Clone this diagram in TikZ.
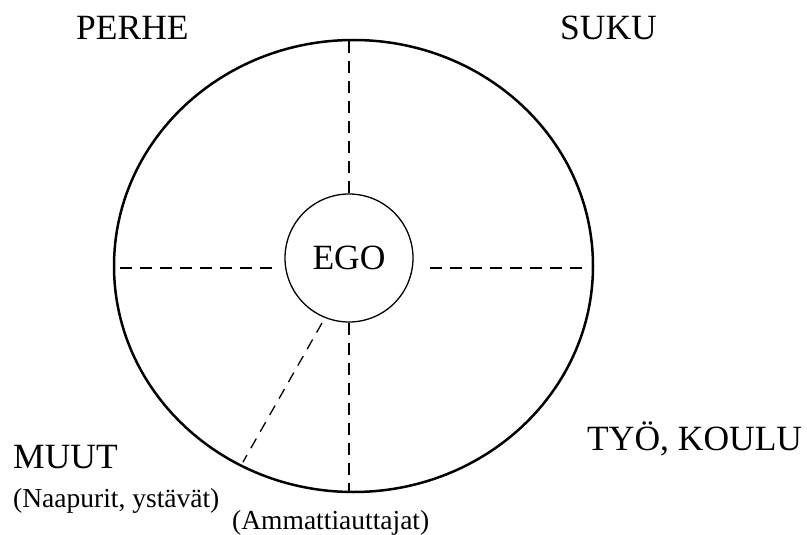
\documentclass[tikz,border=0pt]{standalone}
\usepackage{fontspec}
\setmainfont{Liberation Serif}
\usetikzlibrary{shapes.geometric,calc}
\tikzset{
  big/.style={inner sep=0pt, anchor=base west, font=\fontsize{35.5}{40}\selectfont},
  small/.style={inner sep=0pt, anchor=base west, font=\fontsize{27.5}{32}\selectfont},
  thickdash/.style={line width=2pt, dash pattern=on 12pt off 8pt},
  thindash/.style={line width=1.3pt, dash pattern=on 11pt off 8pt},
}
\begin{document}
\begin{tikzpicture}[x=1pt,y=-1pt]
\useasboundingbox (0,0) rectangle (807,535);
\node[draw, ellipse, line width=2.5pt, minimum width=479pt, minimum height=452pt, inner sep=0pt] (outer) at (353.5,266) {};
\node[draw, circle, line width=1.3pt, minimum size=128pt, inner sep=0pt, font=\fontsize{35.5}{40}\selectfont] (ego) at (349,258) {EGO};
\coordinate (L) at (120,268);
\coordinate (R) at (582,268);
\coordinate (s1) at (322,323);
\coordinate (s2) at (243,462);
\draw[thickdash] (ego.north) -- (ego.north |- outer.north);
\draw[thickdash] (ego.south) -- (ego.south |- outer.south);
\draw[thickdash] (L) -- ($(ego.west |- L)+(-8,0)$);
\draw[thickdash] (R) -- ($(ego.east |- R)+(10,0)$);
\draw[thindash] (s1) -- (s2);
\node[big] (perhe) at (76,40) {PERHE};
\node[big] (suku) at (560,40) {SUKU};
\node[big] (tyo) at (587,450) {TYÖ, KOULU};
\node[big] (muut) at (13,468) {MUUT};
\node[small] (naap) at (13,507) {(Naapurit, ystävät)};
\node[small] (amm) at (232,529) {(Ammattiauttajat)};
\end{tikzpicture}
\end{document}
